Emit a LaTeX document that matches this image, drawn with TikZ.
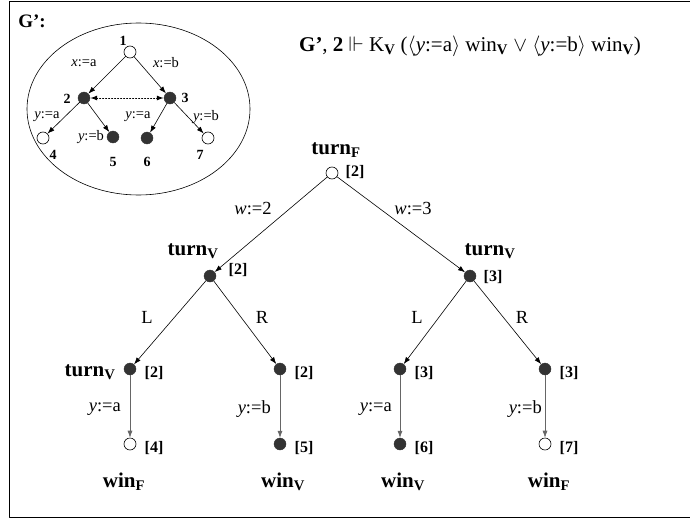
\documentclass[tikz,border=0pt]{standalone}
\usepackage{amssymb}
\usepackage{fontspec}
\setmainfont{Liberation Serif}
\usetikzlibrary{arrows.meta,positioning}

\tikzset{
  openst/.style={circle, draw=black, line width=0.6pt, fill=white, minimum size=12pt, inner sep=0pt},
  fullst/.style={circle, draw=black!80, fill=black!80, minimum size=12pt, inner sep=0pt},
  move/.style={-{Latex[length=7pt,width=5pt]}, line width=0.6pt},
  vmove/.style={move, draw=black!60},
  numst/.style={font=\fontsize{14}{16}\selectfont\bfseries, inner sep=0pt},
  asgn/.style={font=\fontsize{14.5}{16}\selectfont, inner sep=0pt},
  actst/.style={font=\fontsize{18.5}{21}\selectfont, inner sep=0pt},
  idxst/.style={font=\fontsize{16}{18}\selectfont\bfseries, inner sep=0pt},
  propst/.style={font=\fontsize{21}{24}\selectfont\bfseries, inner sep=0pt}
}

\newcommand{\bsub}[1]{\textsubscript{\textbf{#1}}}
\newcommand{\yv}{\textit{y}}

\begin{document}
\begin{tikzpicture}[x=1pt, y=-1pt, line cap=round, line join=round]

% ---------------------------------------------------------
% Frame
% ---------------------------------------------------------
\useasboundingbox (0,0) rectangle (690,519);
\draw[line width=1pt] (9,1.5) rectangle (700,517);

\node[font=\fontsize{19}{22}\selectfont\bfseries, inner sep=0pt] (gname) at (32,21) {G':};

% ---------------------------------------------------------
% Formula
% ---------------------------------------------------------
\node[font=\fontsize{21}{24}\selectfont, inner sep=0pt] (formula) at (470,46)
  {\textbf{G'}, \textbf{2} $\Vdash$ K\bsub{V} ($\langle$\yv:=a$\rangle$ win\bsub{V} $\vee$ $\langle$\yv:=b$\rangle$ win\bsub{V})};

% ---------------------------------------------------------
% Small game G' inside the ellipse
% ---------------------------------------------------------
\draw[line width=0.6pt] (138.5,109) ellipse [x radius=111.5, y radius=86];

\node[openst] (n1) at (130,52) {};
\node[fullst] (n2) at (84,98) {};
\node[fullst] (n3) at (170,98) {};
\node[openst] (n4) at (43,138) {};
\node[fullst] (n5) at (113,137) {};
\node[fullst] (n6) at (147,138) {};
\node[openst] (n7) at (208,138) {};

\draw[move] (n1) -- (n2);
\draw[move] (n1) -- (n3);
\draw[move] (n2) -- (n4);
\draw[move] (n2) -- (n5);
\draw[move] (n3) -- (n6);
\draw[move] (n3) -- (n7);
\draw[dotted, line width=1pt, {Latex[length=7pt,width=5pt]}-{Latex[length=7pt,width=5pt]}] (n2) -- (n3);

\node[numst] (l1) at (123,41) {1};
\node[numst] (l2) at (67,99) {2};
\node[numst] (l3) at (185,98) {3};
\node[numst] (l4) at (53,155) {4};
\node[numst] (l5) at (113,162) {5};
\node[numst] (l6) at (147,162) {6};
\node[numst] (l7) at (200,155) {7};

\node[asgn] (a12) at (84,63) {\textit{x}:=a};
\node[asgn] (a13) at (166,63) {\textit{x}:=b};
\node[asgn] (a24) at (47,117) {\yv:=a};
\node[asgn] (a25) at (91,137) {\yv:=b};
\node[asgn] (a36) at (138,117) {\yv:=a};
\node[asgn] (a37) at (206,117) {\yv:=b};

% ---------------------------------------------------------
% Unfolded game tree
% ---------------------------------------------------------
\node[openst] (root) at (332,173) {};
\node[fullst] (v2) at (210,276) {};
\node[fullst] (v3) at (470,276) {};
\node[fullst] (v2l) at (130,369) {};
\node[fullst] (v2r) at (280,369) {};
\node[fullst] (v3l) at (400,369) {};
\node[fullst] (v3r) at (545,369) {};
\node[openst] (w4) at (130,444) {};
\node[fullst] (w5) at (280,444) {};
\node[fullst] (w6) at (400,444) {};
\node[openst] (w7) at (545,444) {};

\draw[move] (root) -- (v2);
\draw[move] (root) -- (v3);
\draw[move] (v2) -- (v2l);
\draw[move] (v2) -- (v2r);
\draw[move] (v3) -- (v3l);
\draw[move] (v3) -- (v3r);
\draw[vmove] (v2l) -- (w4);
\draw[vmove] (v2r) -- (w5);
\draw[vmove] (v3l) -- (w6);
\draw[vmove] (v3r) -- (w7);

% edge labels
\node[actst] (e2) at (253,209) {\textit{w}:=2};
\node[actst] (e3) at (413,209) {\textit{w}:=3};
\node[actst] (e2l) at (147,317) {L};
\node[actst] (e2r) at (262,317) {R};
\node[actst] (e3l) at (417,317) {L};
\node[actst] (e3r) at (522,317) {R};
\node[actst, anchor=east] (e4) at (121,409) {\yv:=a};
\node[actst, anchor=east] (e5) at (271,409) {\yv:=b};
\node[actst, anchor=east] (e6) at (392,409) {\yv:=a};
\node[actst, anchor=east] (e7) at (542,409) {\yv:=b};

% state indices
\node[idxst] (i0) at (355,172) {[2]};
\node[idxst] (i2) at (238,270) {[2]};
\node[idxst] (i3) at (493,277) {[3]};
\node[idxst] (i2l) at (154,373) {[2]};
\node[idxst] (i2r) at (304,373) {[2]};
\node[idxst] (i3l) at (424,373) {[3]};
\node[idxst] (i3r) at (569,373) {[3]};
\node[idxst] (i4) at (154,448) {[4]};
\node[idxst] (i5) at (304,448) {[5]};
\node[idxst] (i6) at (424,448) {[6]};
\node[idxst] (i7) at (569,448) {[7]};

% propositions
\node[propst] (t0) at (336,150) {turn\bsub{F}};
\node[propst] (t2) at (193,251) {turn\bsub{V}};
\node[propst] (t3) at (490,251) {turn\bsub{V}};
\node[propst] (t2l) at (90,372) {turn\bsub{V}};
\node[propst] (p4) at (124,482) {win\bsub{F}};
\node[propst] (p5) at (283,482) {win\bsub{V}};
\node[propst] (p6) at (403,482) {win\bsub{V}};
\node[propst] (p7) at (549,482) {win\bsub{F}};

\end{tikzpicture}
\end{document}
